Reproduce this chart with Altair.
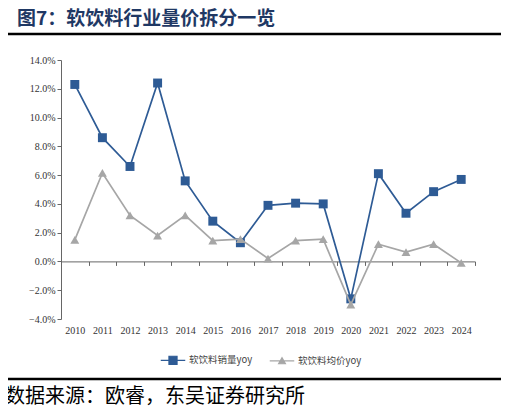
import altair as alt
import pandas as pd

years = [str(y) for y in range(2010, 2025)]
volume_yoy = [12.3, 8.6, 6.6, 12.4, 5.6, 2.8, 1.3, 3.9, 4.05, 4.0, -2.6, 6.1, 3.35, 4.85, 5.7]
price_yoy = [1.5, 6.15, 3.2, 1.8, 3.2, 1.45, 1.55, 0.2, 1.45, 1.55, -3.0, 1.2, 0.65, 1.2, -0.1]
series_names = ["软饮料销量yoy", "软饮料均价yoy"]
series_colors = ["#2e5b95", "#a6a6a6"]
y_ticks = [-0.04, -0.02, 0.0, 0.02, 0.04, 0.06, 0.08, 0.10, 0.12, 0.14]

rows = []
for yr, v, p in zip(years, volume_yoy, price_yoy):
    rows.append({"year": yr, "series": series_names[0], "value": v / 100})
    rows.append({"year": yr, "series": series_names[1], "value": p / 100})
df = pd.DataFrame(rows)

W, H = 414, 259
serif = "Liberation Serif"
cjk = "Noto Sans CJK SC"

SQ = "M-1,0H1M-0.33,-0.33H0.33V0.33H-0.33Z"
TRI = "M-1,0H1M-0.28,0.24L0,-0.26L0.28,0.24Z"

x_enc = alt.X(
    "year:N",
    sort=years,
    bandPosition=0.5,
    scale=alt.Scale(type="band", paddingInner=0, paddingOuter=0),
    axis=alt.Axis(
        title=None,
        labelAngle=0,
        tickBand="extent",
        offset=-57.6,
        tickSize=4,
        labelPadding=60,
        labelFont=serif,
        labelFontSize=10,
        labelColor="#333333",
        domainColor="#666666",
        tickColor="#666666",
        domainWidth=1,
    ),
)
y_enc = alt.Y(
    "value:Q",
    scale=alt.Scale(domain=[-0.04, 0.14], nice=False, zero=False),
    axis=alt.Axis(
        title=None,
        values=y_ticks,
        format=".1%",
        grid=False,
        tickSize=4,
        labelPadding=2,
        labelFont=serif,
        labelFontSize=10,
        labelColor="#333333",
        domainColor="#666666",
        tickColor="#666666",
    ),
)

base = alt.Chart(df)
layers = []
for name, col, shp in zip(series_names, series_colors, ["square", "triangle-up"]):
    sub = base.transform_filter(alt.datum.series == name)
    layers.append(sub.mark_line(strokeWidth=1.7, color=col).encode(x=x_enc, y=y_enc))
    layers.append(sub.mark_point(filled=True, size=80, opacity=1, color=col, shape=shp)
                  .encode(x=x_enc, y=y_enc))

leg = dict(
    title=None,
    orient="none",
    direction="horizontal",
    legendX=99,
    legendY=287,
    symbolSize=600,
    symbolStrokeWidth=1.2,
    symbolOpacity=1,
    labelFont=cjk,
    labelFontSize=9.5,
    labelColor="#444444",
    labelOffset=3,
    columnPadding=14,
)
legend_layer = base.transform_filter("false").mark_point(
    filled=False, size=600, strokeWidth=1.2, opacity=1
).encode(
    x=x_enc,
    y=y_enc,
    color=alt.Color("series:N", sort=series_names,
                    scale=alt.Scale(domain=series_names, range=series_colors),
                    legend=alt.Legend(**leg)),
    fill=alt.Fill("series:N", sort=series_names,
                  scale=alt.Scale(domain=series_names, range=series_colors),
                  legend=alt.Legend(**leg)),
    shape=alt.Shape("series:N", sort=series_names,
                    scale=alt.Scale(domain=series_names, range=[SQ, TRI]),
                    legend=alt.Legend(**leg)),
)

one = pd.DataFrame({"a": [0]})
title_text = alt.Chart(one).mark_text(
    text="图7：软饮料行业量价拆分一览", font=cjk, fontSize=19, fontWeight="bold",
    color="#1f3864", align="left", baseline="middle"
).encode(x=alt.value(-44), y=alt.value(-41))
footer_text = alt.Chart(one).mark_text(
    text="数据来源：欧睿，东吴证券研究所", font=cjk, fontSize=20,
    color="#000000", align="left", baseline="middle"
).encode(x=alt.value(-56), y=alt.value(337))
top_rule = alt.Chart(one).mark_rule(color="#000000", strokeWidth=2.5).encode(
    x=alt.value(-56), x2=alt.value(442), y=alt.value(-26))
bottom_rule = alt.Chart(one).mark_rule(color="#000000", strokeWidth=2.5).encode(
    x=alt.value(-56), x2=alt.value(442), y=alt.value(319))

chart = alt.layer(*layers, legend_layer, title_text, footer_text, top_rule, bottom_rule).properties(
    width=W, height=H,
    autosize=alt.AutoSizeParams(type="none"),
    padding={"left": 53, "top": 52, "right": 26, "bottom": 93},
    background="#ffffff",
).configure_view(stroke=None)

chart.save("out.html", embed_options={"renderer": "svg", "actions": False})
